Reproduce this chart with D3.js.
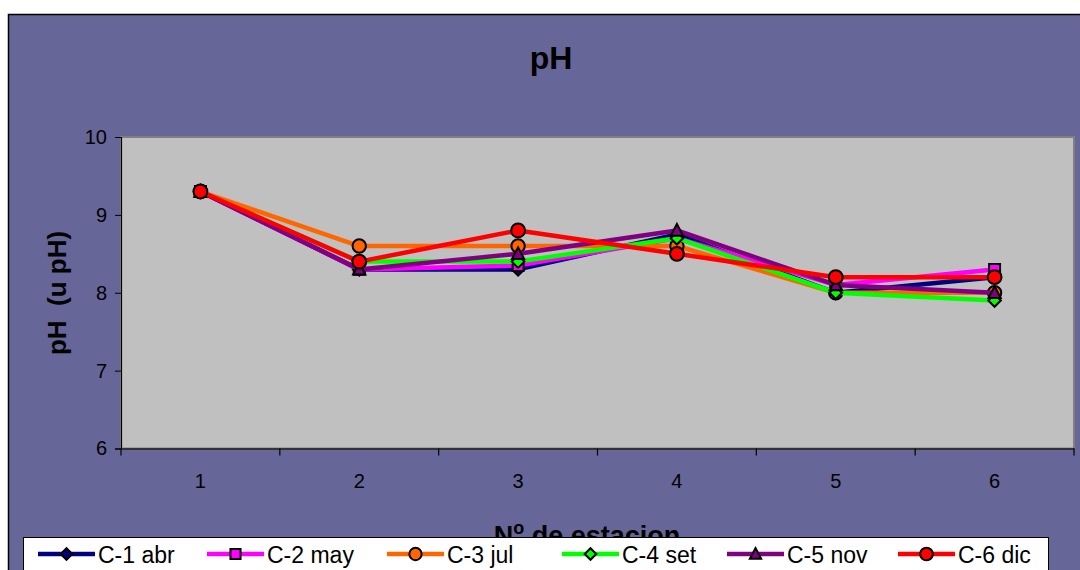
<!DOCTYPE html>
<html><head><meta charset="utf-8">
<script src="https://cdn.jsdelivr.net/npm/d3@7/dist/d3.min.js"></script>
<style>body{margin:0;background:#fff;}svg{display:block;font-family:"Liberation Sans",Arial,sans-serif;}</style>
</head><body><svg id="c" width="1080" height="570"></svg>
<script>
const stations = ["1","2","3","4","5","6"];
const seriesNames = ["C-1 abr","C-2 may","C-3 jul","C-4 set","C-5 nov","C-6 dic"];
const c1 = [9.3, 8.3, 8.3, 8.75, 8.0, 8.2];
const c2 = [9.3, 8.3, 8.35, 8.7, 8.1, 8.3];
const c3 = [9.3, 8.6, 8.6, 8.6, 8.0, 8.0];
const c4 = [9.3, 8.4, 8.4, 8.7, 8.0, 7.9];
const c5 = [9.3, 8.3, 8.5, 8.8, 8.1, 8.0];
const c6 = [9.3, 8.4, 8.8, 8.5, 8.2, 8.2];
const yTicks = [6, 7, 8, 9, 10];
const colors = ["#000080","#FF00FF","#FF6600","#00FF00","#800080","#FF0000"];
const allSeries = [c1,c2,c3,c4,c5,c6];

const diamond = {draw(ctx, size){const r=Math.sqrt(size)/2*1.2; ctx.moveTo(0,-r);ctx.lineTo(r,0);ctx.lineTo(0,r);ctx.lineTo(-r,0);ctx.closePath();}};
const triangle = {draw(ctx, size){const r=Math.sqrt(size)/2; ctx.moveTo(0,-r*1.05);ctx.lineTo(r,r*0.85);ctx.lineTo(-r,r*0.85);ctx.closePath();}};
const shapes = [diamond, d3.symbolSquare, d3.symbolCircle, diamond, triangle, d3.symbolCircle];
const sizes = [110, 120, 140, 110, 150, 150];

const svg = d3.select("#c");
svg.append("rect").attr("x",8.5).attr("y",14.5).attr("width",1090).attr("height",570)
  .attr("fill","#666699").attr("stroke","#000").attr("stroke-width",1.5);

const L=121, R=1074, T=137, B=448.5;
const x = d3.scaleBand().domain(stations).range([L,R]).padding(0);
const y = d3.scaleLinear().domain([6,10]).range([B,T]);

svg.append("rect").attr("x",L).attr("y",T).attr("width",R-L).attr("height",B-T)
  .attr("fill","#C0C0C0").attr("stroke","#808080").attr("stroke-width",2);

const ya = svg.append("g").attr("transform",`translate(${L},0)`)
  .call(d3.axisLeft(y).tickValues(yTicks).tickSize(6).tickPadding(8).tickFormat(d3.format("d")));
ya.attr("font-size",20).attr("font-family","Liberation Sans, Arial, sans-serif");
ya.select(".domain").attr("stroke","#000").attr("stroke-width",1.2);
ya.selectAll(".tick line").attr("stroke","#000");
ya.selectAll("text").attr("fill","#000");

const xa = svg.append("g").attr("transform",`translate(0,${B})`)
  .call(d3.axisBottom(x).tickSize(0).tickPadding(25));
xa.attr("font-size",20).attr("font-family","Liberation Sans, Arial, sans-serif");
xa.select(".domain").attr("stroke","#333").attr("stroke-width",2);
xa.selectAll("text").attr("fill","#000");
const bounds = stations.map(s=>x(s)).concat([R]);
svg.append("g").selectAll("line").data(bounds).join("line")
  .attr("x1",d=>d).attr("x2",d=>d).attr("y1",B).attr("y2",B+7).attr("stroke","#000").attr("stroke-width",1.2);

const cx = s => x(s) + x.bandwidth()/2;

allSeries.forEach((vals,i)=>{
  const g = svg.append("g");
  const line = d3.line().x((d,j)=>cx(stations[j])).y(d=>y(d));
  g.append("path").attr("d",line(vals)).attr("fill","none").attr("stroke",colors[i])
    .attr("stroke-width",4.5).attr("stroke-linejoin","round");
  g.selectAll("path.m").data(vals).join("path").attr("class","m")
    .attr("d",d3.symbol().type(shapes[i]).size(sizes[i]))
    .attr("transform",(d,j)=>`translate(${cx(stations[j])},${y(d)})`)
    .attr("fill",colors[i]).attr("stroke","#000").attr("stroke-width",2);
});

svg.append("text").attr("x",551).attr("y",69).attr("text-anchor","middle")
  .attr("font-size",32).attr("font-weight","bold").text("pH");
svg.append("text").attr("transform","translate(66,293) rotate(-90)").attr("text-anchor","middle")
  .attr("font-size",26).attr("font-weight","bold").text("pH\u00a0\u00a0(u pH)");
const xt = svg.append("text").attr("x",587).attr("y",545).attr("text-anchor","middle")
  .attr("font-size",27).attr("font-weight","bold");
xt.append("tspan").text("N");
xt.append("tspan").attr("dy",-11).attr("font-size",18).text("o");
xt.append("tspan").attr("dy",11).text(" de estacion");

svg.append("rect").attr("x",23.5).attr("y",537.5).attr("width",1025).attr("height",50)
  .attr("fill","#fff").attr("stroke","#000").attr("stroke-width",1);
const legX = [38, 207, 387, 562, 727, 898];
seriesNames.forEach((n,i)=>{
  const g = svg.append("g").attr("transform",`translate(${legX[i]},554)`);
  g.append("line").attr("x1",0).attr("x2",57).attr("y1",0).attr("y2",0).attr("stroke",colors[i]).attr("stroke-width",4.5);
  g.append("path").attr("d",d3.symbol().type(shapes[i]).size(sizes[i]*0.85)).attr("transform","translate(28.5,0)")
    .attr("fill",colors[i]).attr("stroke","#000").attr("stroke-width",2);
  g.append("text").attr("x",60).attr("y",8.5).attr("font-size",23).text(n);
});
</script></body></html>
